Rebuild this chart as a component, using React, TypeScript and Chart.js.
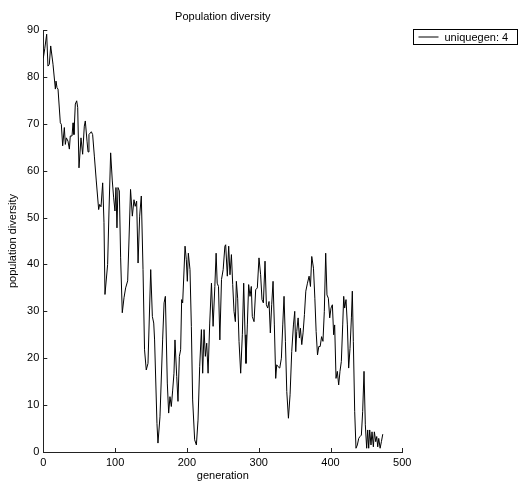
import React, { useEffect, useRef } from "react";
import { Chart, registerables } from "chart.js";

Chart.register(...registerables);

const chartTitle = "Population diversity";
const xTitle = "generation";
const yTitle = "population diversity";
const seriesLabel = "uniquegen: 4";

const xTicks = [0, 100, 200, 300, 400, 500];
const yTicks = [0, 10, 20, 30, 40, 50, 60, 70, 80, 90];

const generations = [
  0, 2, 4.7, 6.5, 8.4, 10.3, 13.5, 16.8, 17.7, 19.1, 20.5, 23.7, 25.1, 27, 29.3, 30.7, 32.1, 34.4, 36.3, 37.6,
  40, 41.4, 42.7, 44.6, 46.5, 47.9, 49.7, 52.5, 54.8, 57.1, 58.5, 60.9, 62.3, 63.6, 66.9, 68.7, 71.1, 73.8, 77.1, 78.5,
  80.4, 82.7, 84.5, 85.9, 89.6, 91.5, 93.8, 96.1, 98, 99.8, 101.2, 102.6, 104, 105.9, 107.7, 110, 112.4, 114.7, 117.5, 119.3,
  121.5, 124, 126.3, 128, 130, 132, 134.2, 136.5, 138.9, 141, 143.4, 145.8, 149.6, 151.9, 153.8, 155, 158.3, 159.7, 162.5, 166.2,
  168.2, 170, 172.7, 174.6, 176.4, 178.3, 180.2, 182, 183.4, 185.8, 187.6, 189.5, 191.3, 192.7, 194.1, 197.4, 199.2, 200.6, 202, 204.3,
  206.2, 208, 210.8, 213.2, 215.5, 217.8, 220.2, 222, 223.9, 225.7, 227.6, 229.5, 231.8, 234.2, 236.5, 238.9, 240.7, 242.2, 244, 245.9,
  248.2, 250.5, 252.9, 254, 256.3, 258.2, 260, 262, 263.8, 265.6, 267.5, 268.9, 270.7, 272.6, 274.9, 277.2, 279.1, 281, 282.3, 284.2,
  286, 287.9, 289.7, 291.1, 293.5, 295.8, 298.1, 300.4, 302.7, 304.6, 306.5, 308.8, 310.7, 312.5, 314.4, 316.2, 318.1, 320, 321.8, 323.7,
  325.1, 327, 329.3, 331.6, 333.5, 335.3, 337.2, 339.1, 341.4, 343.7, 346, 348.4, 350.2, 351.6, 353, 354.9, 356.7, 358.1, 360, 361.8,
  363.7, 365.6, 367.9, 370.2, 372.1, 373.9, 376.3, 378.2, 380, 381.9, 383.7, 385.6, 387.6, 389.5, 391.4, 393.3, 395.1, 397, 398.9, 400.7,
  402.6, 404.4, 405.8, 407.7, 409.5, 411.4, 413.2, 415.1, 417, 418.4, 419.7, 421.6, 423.5, 425.3, 427.2, 429.1, 430.4, 431.8, 433.7, 435.5,
  437.4, 439.3, 441.1, 443, 444.8, 446.7, 448.5, 450.4, 451.8, 453.2, 454.6, 456.4, 457.8, 459.7, 461.1, 463, 464.4, 465.8, 467.2, 469.1,
  470.9, 472.8,
];

const diversity = [
  84, 86, 89.1, 82.3, 82.7, 86.6, 82.7, 77.4, 79.1, 77.7, 77.4, 70.2, 69.9, 65.3, 69.2, 65.6, 67, 66.3, 64.6, 67.4,
  67.4, 70.2, 67.7, 74.2, 74.9, 73.5, 60.6, 67, 63.5, 69.5, 70.6, 66.3, 64, 67.7, 68.3, 67.7, 63.1, 57.8, 51.7, 52.8,
  52.3, 57.4, 49, 33.6, 40, 51.4, 63.8, 57.8, 54.2, 51.4, 56.4, 47.8, 56.4, 55.7, 41.4, 29.7, 32.9, 35, 36.5, 45,
  56, 50.3, 53.8, 52.4, 53.5, 40.3, 50.3, 54.6, 38.9, 21.8, 17.5, 18.9, 38.9, 28.9, 27.5, 23.9, 6.1, 1.9, 7.5, 23.9,
  31.8, 33.2, 14.7, 8.3, 11.8, 9.7, 13.2, 16.8, 23.9, 16.1, 10.8, 20.4, 21.8, 32.5, 31.8, 43.9, 41, 36.4, 42.4, 38.9,
  26.8, 11.1, 2.6, 1.5, 6.8, 18.2, 26.1, 16.8, 26.1, 20.4, 23.2, 16.8, 27.5, 36, 26.8, 35.3, 42.4, 36, 35.3, 23.9,
  36.8, 38.9, 43.9, 44.2, 37.5, 43.9, 37.8, 42.1, 35.7, 30, 27.8, 36.4, 32.8, 23.6, 16.8, 25, 36, 25, 18.9, 27.1,
  35.7, 33.2, 35.3, 28.9, 27.8, 34.6, 35, 41.4, 37.8, 32.5, 31.8, 40.7, 31.4, 30.7, 32.1, 25.4, 31.4, 36.4, 27.1, 15.7,
  18.6, 18.2, 17.9, 20, 27.1, 33.2, 23.6, 12.9, 7.2, 12.2, 21.4, 27.1, 30, 21.4, 25.7, 28.6, 24.3, 26.4, 22.9, 25.4,
  29.3, 34.3, 36, 37.5, 35.3, 41.7, 39.2, 32.8, 25.7, 20.7, 22.5, 22.5, 24.6, 23.6, 30, 42.4, 33.5, 32.8, 28.6, 30.7,
  31.4, 25, 27.1, 15.7, 17.2, 14.3, 17.2, 19.3, 27.1, 33.2, 30.7, 32.5, 27.1, 17.9, 22.1, 28.6, 34.3, 23.6, 8.6, 0.8,
  1.5, 2.9, 3.3, 3.6, 8.6, 17.2, 5.8, 0.8, 4.7, 0.8, 4.7, 1.5, 4.3, 1.1, 4.3, 2.2, 3.3, 1.1, 2.9, 0.8,
  2.2, 3.8,
];

const FONT = "'Liberation Sans', Arial, Helvetica, sans-serif";
const AXIS_COLOR = "#222";

const decorPlugin = {
  id: "matlabDecor",
  afterDraw(chart: any) {
    const { ctx, chartArea, scales } = chart;
    const xs = scales.x;
    const ys = scales.y;
    ctx.save();
    ctx.strokeStyle = AXIS_COLOR;
    ctx.lineWidth = 1;
    ctx.beginPath();
    xs.ticks.forEach((t: any) => {
      const px = Math.round(xs.getPixelForValue(t.value)) + 0.5;
      ctx.moveTo(px, chartArea.bottom);
      ctx.lineTo(px, chartArea.bottom - 4);
    });
    ys.ticks.forEach((t: any) => {
      const py = Math.round(ys.getPixelForValue(t.value)) + 0.5;
      ctx.moveTo(chartArea.left, py);
      ctx.lineTo(chartArea.left + 4, py);
    });
    ctx.stroke();

    // title centred over the plot area
    ctx.fillStyle = "#000";
    ctx.font = `11px ${FONT}`;
    ctx.textBaseline = "middle";
    ctx.textAlign = "center";
    ctx.fillText(chartTitle, (chartArea.left + chartArea.right) / 2, 17);

    // legend box
    const lx = Math.round(chartArea.right + 11) + 0.5;
    const ly = 29.5;
    const lw = 104;
    const lh = 15;
    ctx.fillStyle = "#fff";
    ctx.fillRect(lx, ly, lw, lh);
    ctx.strokeStyle = "#000";
    ctx.strokeRect(lx, ly, lw, lh);
    ctx.beginPath();
    ctx.moveTo(lx + 5, ly + 7.5);
    ctx.lineTo(lx + 25, ly + 7.5);
    ctx.stroke();
    ctx.fillStyle = "#000";
    ctx.textAlign = "left";
    ctx.fillText(chart.data.datasets[0].label, lx + 31, ly + 8);
    ctx.restore();
  },
};

export default function App() {
  const canvasRef = useRef<HTMLCanvasElement | null>(null);

  useEffect(() => {
    document.body.style.margin = "0";
    const canvas = canvasRef.current;
    if (!canvas) return;
    const chart = new Chart(canvas, {
      type: "line",
      data: {
        datasets: [
          {
            label: seriesLabel,
            data: generations.map((g, i) => ({ x: g, y: diversity[i] })),
            borderColor: "#000",
            borderWidth: 1,
            pointRadius: 0,
            tension: 0,
            fill: false,
          },
        ],
      },
      options: {
        responsive: false,
        animation: false,
        devicePixelRatio: 1,
        layout: { padding: { left: 0, right: 116.7, top: 30, bottom: 0 } },
        plugins: {
          legend: { display: false },
          tooltip: { enabled: false },
          title: { display: false },
        },
        scales: {
          x: {
            type: "linear",
            min: 0,
            max: 500,
            afterBuildTicks: (s: any) => {
              s.ticks = xTicks.map((v) => ({ value: v }));
            },
            afterFit: (s: any) => {
              s.height = 31;
            },
            grid: { display: false, drawTicks: false },
            border: { display: true, color: AXIS_COLOR, width: 1 },
            ticks: {
              color: "#000",
              padding: 4,
              maxRotation: 0,
              font: { family: FONT, size: 11 },
            },
            title: {
              display: true,
              text: xTitle,
              color: "#000",
              font: { family: FONT, size: 11 },
              padding: { top: 0, bottom: 0 },
            },
          },
          y: {
            type: "linear",
            min: 0,
            max: 90,
            afterBuildTicks: (s: any) => {
              s.ticks = yTicks.map((v) => ({ value: v }));
            },
            afterFit: (s: any) => {
              s.width = 43.3;
            },
            grid: { display: false, drawTicks: false },
            border: { display: true, color: AXIS_COLOR, width: 1 },
            ticks: {
              color: "#000",
              padding: 4,
              font: { family: FONT, size: 11 },
            },
            title: {
              display: true,
              text: yTitle,
              color: "#000",
              font: { family: FONT, size: 11 },
              padding: { top: 6, bottom: 0 },
            },
          },
        },
      },
      plugins: [decorPlugin],
    });
    return () => chart.destroy();
  }, []);

  return (
    <div style={{ position: "fixed", left: 0, top: 0, width: 519, height: 483 }}>
      <canvas ref={canvasRef} width={519} height={483} style={{ width: 519, height: 483, display: "block" }} />
    </div>
  );
}
